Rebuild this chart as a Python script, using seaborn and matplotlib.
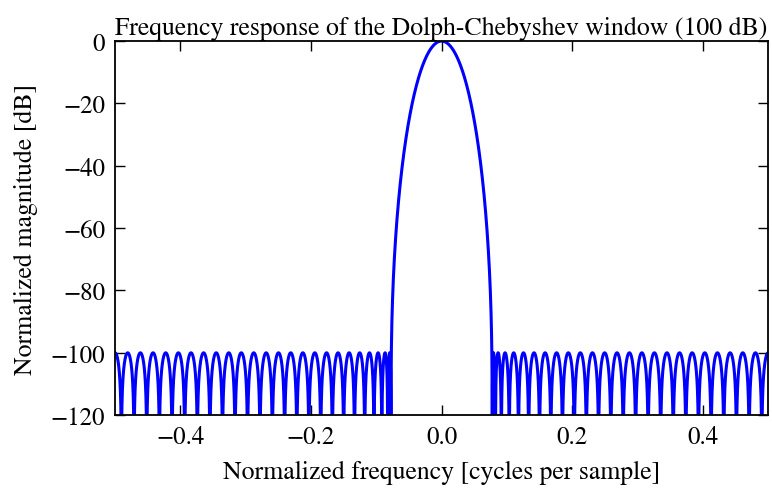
import matplotlib
matplotlib.use("Agg")
import matplotlib.pyplot as plt
import numpy as np
import pandas as pd
import seaborn as sns

# Window parameters: 51 taps (21 sidelobes per side),
# equiripple sidelobes at -100 dB
NUM_TAPS = 51
ATTENUATION_DB = 100.0
N_FFT = 2048

X_LIMITS = (-0.5, 0.5)
Y_LIMITS = (-120, 0)
X_TICKS = [-0.4, -0.2, 0.0, 0.2, 0.4]
Y_TICKS = [0, -20, -40, -60, -80, -100, -120]

TITLE = "Frequency response of the Dolph-Chebyshev window (100 dB)"
XLABEL = "Normalized frequency [cycles per sample]"
YLABEL = "Normalized magnitude [dB]"


def chebyshev_response(freq, taps, atten_db):
    # Dolph-Chebyshev window spectrum: T_{N-1}(x0 cos(pi f)), normalized to peak
    order = taps - 1
    x0 = np.cosh(np.arccosh(10 ** (atten_db / 20.0)) / order)
    x = x0 * np.cos(np.pi * freq)
    t = np.where(np.abs(x) <= 1,
                 np.cos(order * np.arccos(np.clip(x, -1, 1))),
                 np.cosh(order * np.arccosh(np.maximum(np.abs(x), 1))))
    with np.errstate(divide="ignore"):
        return 20 * np.log10(np.abs(t)) - atten_db


freq = np.linspace(-0.5, 0.5, N_FFT * 4)
response = chebyshev_response(freq, NUM_TAPS, ATTENUATION_DB)
response = np.maximum(response, -300)
df = pd.DataFrame({"freq": freq, "response": response})

plt.rcParams["font.family"] = ["STIXGeneral", "Liberation Serif", "DejaVu Serif"]
plt.rcParams["mathtext.fontset"] = "stix"
plt.rcParams["axes.unicode_minus"] = True

fig = plt.figure(figsize=(7.72, 4.89), dpi=100)
ax = fig.add_axes([0.149, 0.149, 0.846, 0.765])

sns.lineplot(data=df, x="freq", y="response", ax=ax, color="#0000ff",
             linewidth=2.2, estimator=None, sort=False)

ax.set_xlim(*X_LIMITS)
ax.set_ylim(*Y_LIMITS)
ax.set_xticks(X_TICKS)
ax.set_yticks(Y_TICKS)
ax.tick_params(direction="in", top=True, right=True, length=7, width=1,
               labelsize=18, pad=7)
for sp in ax.spines.values():
    sp.set_linewidth(1.3)
ax.set_title(TITLE, fontsize=18.5, pad=5)
ax.set_xlabel(XLABEL, fontsize=18.5, labelpad=8)
ax.set_ylabel(YLABEL, fontsize=18.5, labelpad=9)
ax.grid(False)

fig.savefig("out.png", dpi=100, facecolor="white")
